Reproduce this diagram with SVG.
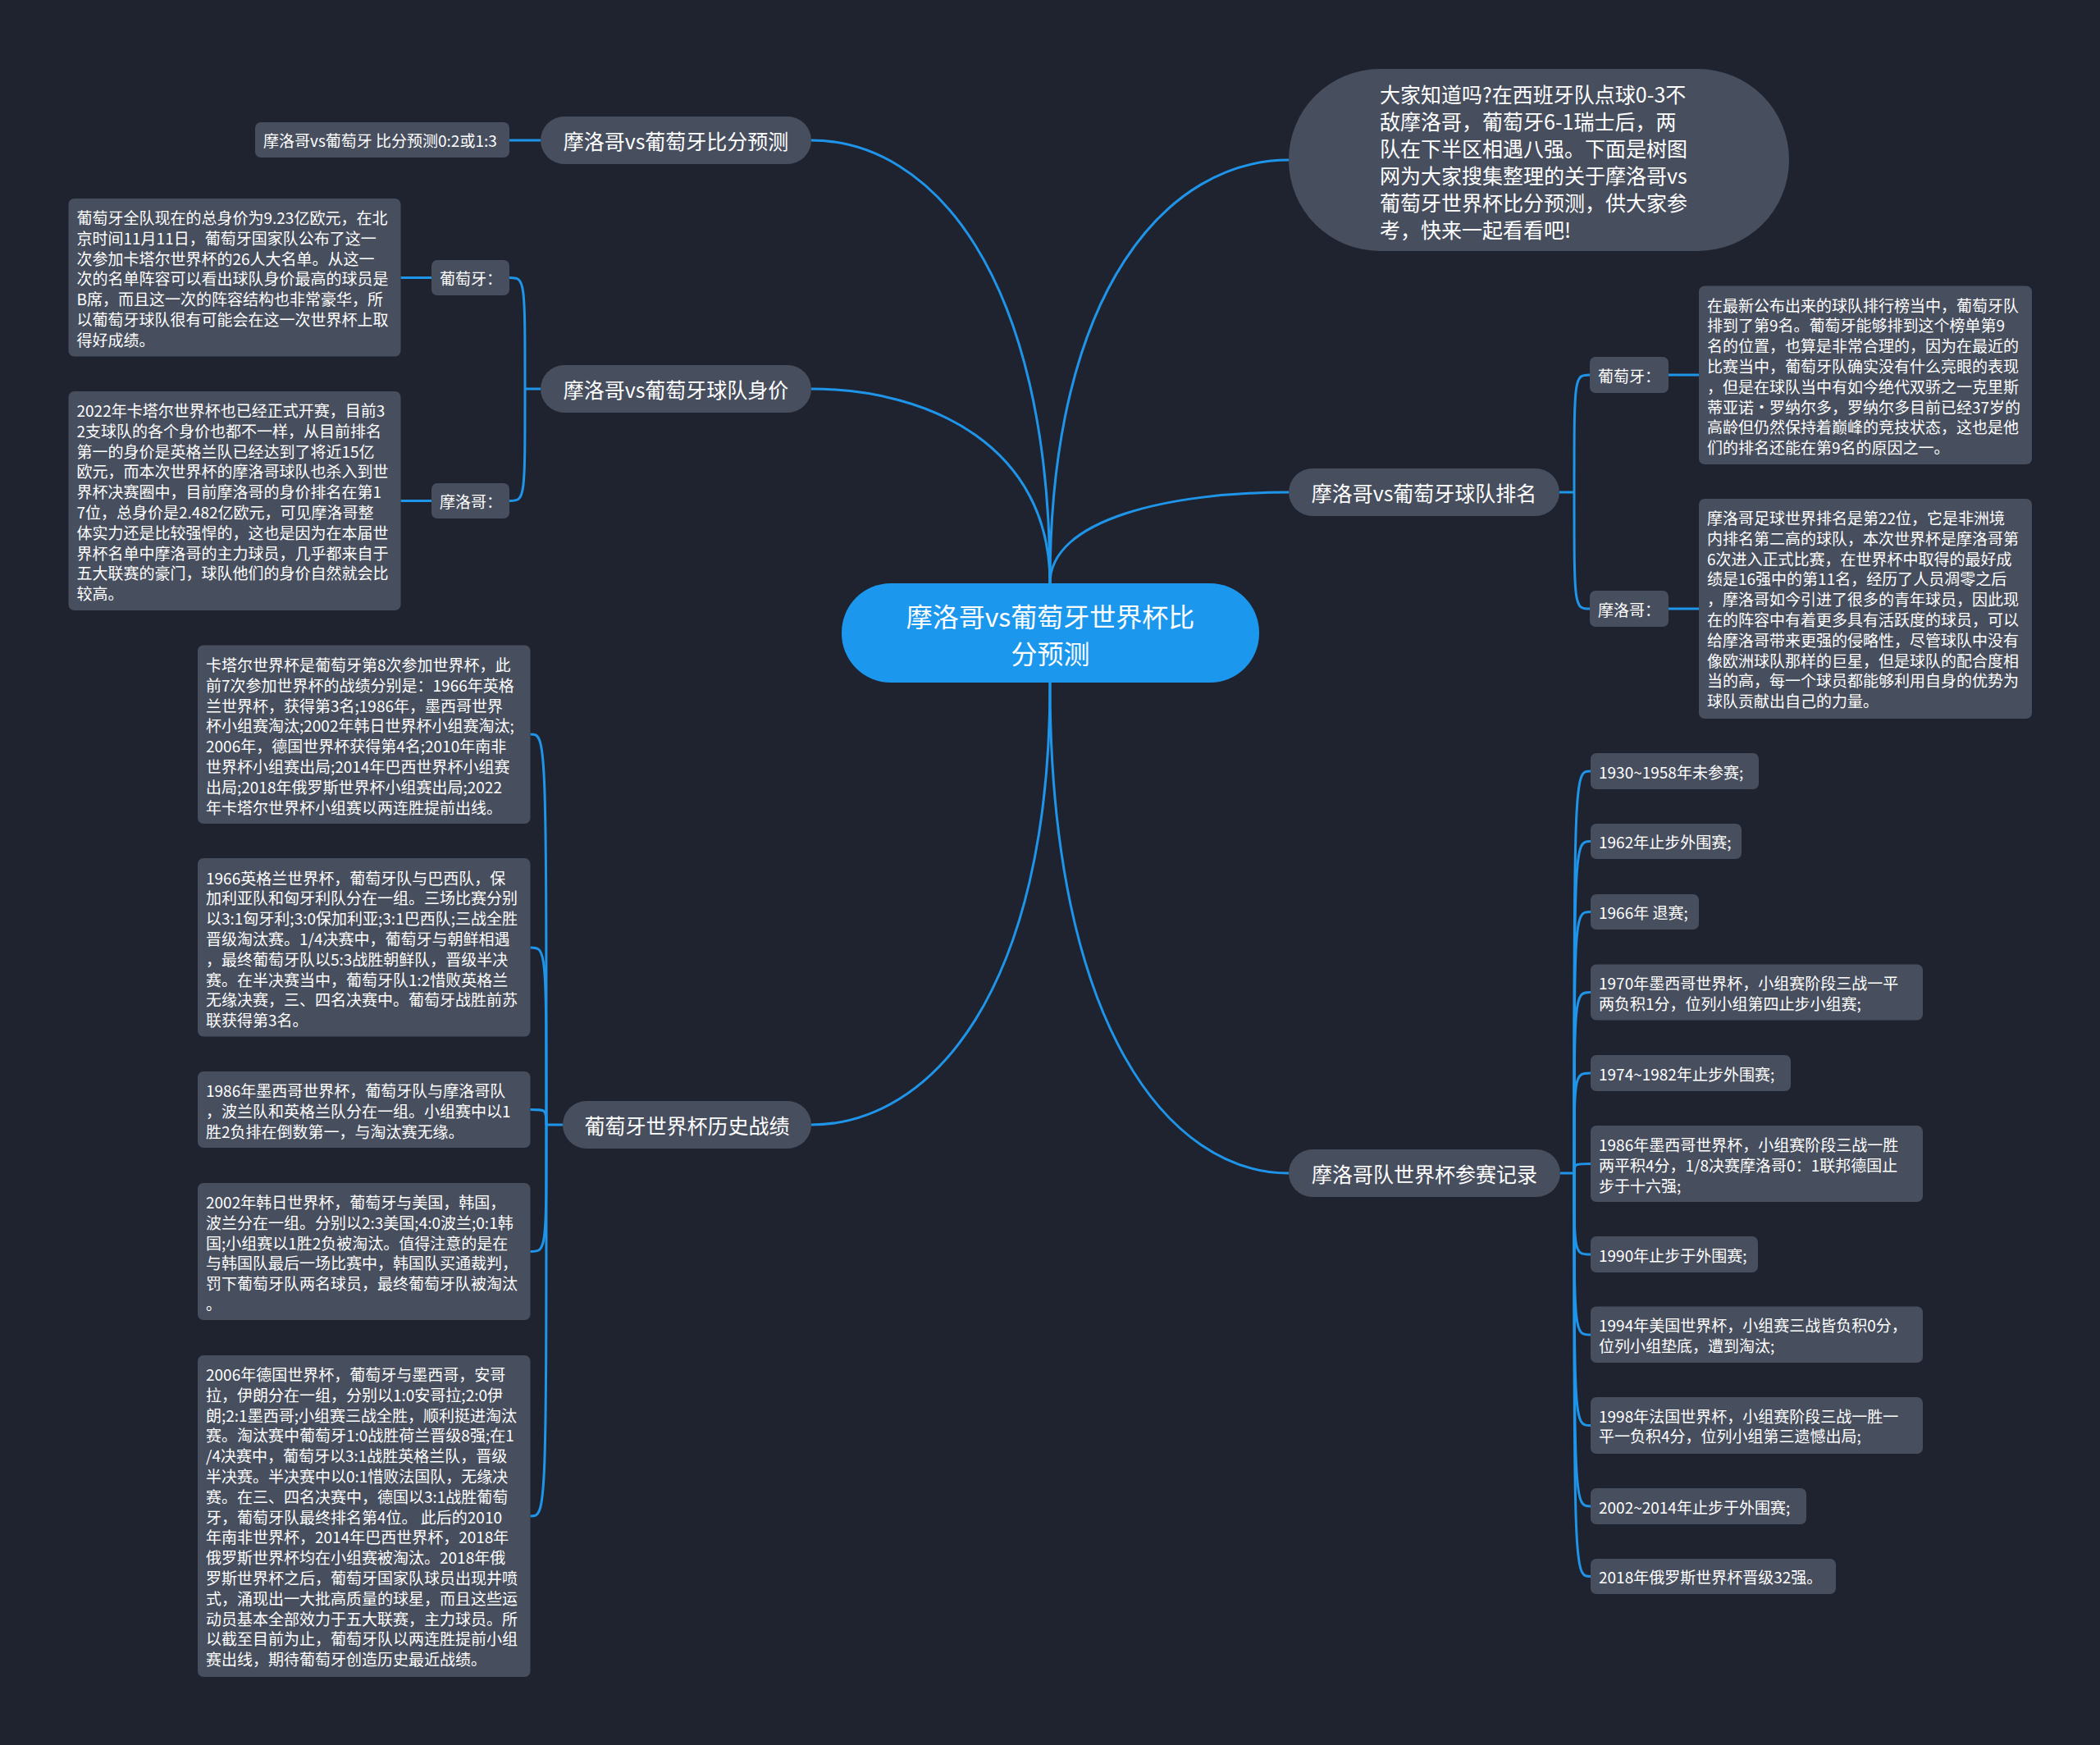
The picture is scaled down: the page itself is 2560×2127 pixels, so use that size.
<svg xmlns="http://www.w3.org/2000/svg" width="2560" height="2127" viewBox="0 0 2560 2127">
<style>
.bgc{fill:#1f2330}
.nd{fill:#474e5e}
.ctr{fill:#1b98ee}
.conn{fill:none;stroke:#1f95ea;stroke-width:3}
text{font-family:"Noto Sans CJK SC","Microsoft YaHei",sans-serif;fill:#ffffff;dominant-baseline:central}
.t-c{font-size:32px;text-anchor:middle}
.t-b{font-size:25px;text-anchor:middle}
.t-q{font-size:25px}
.t-l{font-size:19px}
</style>
<rect class="bgc" x="0" y="0" width="2560" height="2127"/>

<g id="connectors">
  <path class="conn" d="M989,171 C1134.5,171 1280,333 1280,711"/>
  <path class="conn" d="M989,474 C1134.5,474 1280,545 1280,711"/>
  <path class="conn" d="M1571,195 C1425.5,195 1280,350 1280,711"/>
  <path class="conn" d="M1571,600 C1425.5,600 1280,633 1280,711"/>
  <path class="conn" d="M989,1371 C1134.5,1371 1280,1209 1280,832"/>
  <path class="conn" d="M1571,1430 C1425.5,1430 1280,1251 1280,832"/>
  <!-- branch 1 -->
  <path class="conn" d="M659,171 L621,171"/>
  <!-- branch 2 -->
  <path class="conn" d="M659,474 L640,474"/>
  <path class="conn" d="M640,474 C640,338.5 640,338.5 621,338.5"/>
  <path class="conn" d="M640,474 C640,610.5 640,610.5 621,610.5"/>
  <path class="conn" d="M526,338.5 L488.5,338.5"/>
  <path class="conn" d="M526,610.5 L488.5,610.5"/>
  <!-- branch 3 -->
  <path class="conn" d="M686,1371 L666,1371"/>
  <path class="conn" d="M666,1371 C666,895 666,895 646.5,895"/>
  <path class="conn" d="M666,1371 C666,1155 666,1155 646.5,1155"/>
  <path class="conn" d="M666,1371 C666,1352.5 666,1352.5 646.5,1352.5"/>
  <path class="conn" d="M666,1371 C666,1525.5 666,1525.5 646.5,1525.5"/>
  <path class="conn" d="M666,1371 C666,1848 666,1848 646.5,1848"/>
  <!-- branch 5 -->
  <path class="conn" d="M1901,600 L1919,600"/>
  <path class="conn" d="M1919,600 C1919,457 1919,457 1938,457"/>
  <path class="conn" d="M1919,600 C1919,742 1919,742 1938,742"/>
  <path class="conn" d="M2034,457 L2071,457"/>
  <path class="conn" d="M2034,742 L2071,742"/>
  <!-- branch 6 -->
  <path class="conn" d="M1902,1430 L1919,1430"/>
  <path class="conn" d="M1919,1430 C1919,940 1919,940 1939,940"/>
  <path class="conn" d="M1919,1430 C1919,1025.5 1919,1025.5 1939,1025.5"/>
  <path class="conn" d="M1919,1430 C1919,1111.5 1919,1111.5 1939,1111.5"/>
  <path class="conn" d="M1919,1430 C1919,1209.5 1919,1209.5 1939,1209.5"/>
  <path class="conn" d="M1919,1430 C1919,1308 1919,1308 1939,1308"/>
  <path class="conn" d="M1919,1430 C1919,1418.5 1919,1418.5 1939,1418.5"/>
  <path class="conn" d="M1919,1430 C1919,1529 1919,1529 1939,1529"/>
  <path class="conn" d="M1919,1430 C1919,1627 1919,1627 1939,1627"/>
  <path class="conn" d="M1919,1430 C1919,1737.5 1919,1737.5 1939,1737.5"/>
  <path class="conn" d="M1919,1430 C1919,1836 1919,1836 1939,1836"/>
  <path class="conn" d="M1919,1430 C1919,1921.5 1919,1921.5 1939,1921.5"/>
</g>

<g id="center">
  <rect class="ctr" x="1026" y="711" width="509" height="121" rx="60"/>
  <text class="t-c" x="1280.5" y="750">摩洛哥vs葡萄牙世界杯比</text>
  <text class="t-c" x="1280.5" y="795">分预测</text>
</g>

<g id="b1">
  <rect class="nd" x="659" y="142" width="330" height="58" rx="29"/>
  <text class="t-b" x="824" y="171">摩洛哥vs葡萄牙比分预测</text>
</g>
<g id="b1-l1">
  <rect class="nd" x="311" y="149" width="310" height="43" rx="7"/>
  <text class="t-l" x="321" y="170.5">摩洛哥vs葡萄牙 比分预测0:2或1:3</text>
</g>

<g id="b2">
  <rect class="nd" x="659" y="445" width="330" height="58" rx="29"/>
  <text class="t-b" x="824" y="474">摩洛哥vs葡萄牙球队身价</text>
</g>
<g id="b2-s1">
  <rect class="nd" x="526" y="317" width="95" height="43" rx="7"/>
  <text class="t-l" x="536" y="338.5">葡萄牙：</text>
</g>
<g id="b2-s1-l">
  <rect class="nd" x="83.5" y="242" width="405" height="192.5" rx="7"/>
  <text class="t-l" x="93.5" y="264.5">葡萄牙全队现在的总身价为9.23亿欧元，在北</text>
  <text class="t-l" x="93.5" y="289.3">京时间11月11日，葡萄牙国家队公布了这一</text>
  <text class="t-l" x="93.5" y="314.1">次参加卡塔尔世界杯的26人大名单。从这一</text>
  <text class="t-l" x="93.5" y="338.9">次的名单阵容可以看出球队身价最高的球员是</text>
  <text class="t-l" x="93.5" y="363.7">B席，而且这一次的阵容结构也非常豪华，所</text>
  <text class="t-l" x="93.5" y="388.5">以葡萄牙球队很有可能会在这一次世界杯上取</text>
  <text class="t-l" x="93.5" y="413.3">得好成绩。</text>
</g>
<g id="b2-s2">
  <rect class="nd" x="526" y="589" width="95" height="43" rx="7"/>
  <text class="t-l" x="536" y="610.5">摩洛哥：</text>
</g>
<g id="b2-s2-l">
  <rect class="nd" x="83.5" y="477" width="405" height="267" rx="7"/>
  <text class="t-l" x="93.5" y="499.5">2022年卡塔尔世界杯也已经正式开赛，目前3</text>
  <text class="t-l" x="93.5" y="524.3">2支球队的各个身价也都不一样，从目前排名</text>
  <text class="t-l" x="93.5" y="549.1">第一的身价是英格兰队已经达到了将近15亿</text>
  <text class="t-l" x="93.5" y="573.9">欧元，而本次世界杯的摩洛哥球队也杀入到世</text>
  <text class="t-l" x="93.5" y="598.7">界杯决赛圈中，目前摩洛哥的身价排名在第1</text>
  <text class="t-l" x="93.5" y="623.5">7位，总身价是2.482亿欧元，可见摩洛哥整</text>
  <text class="t-l" x="93.5" y="648.3">体实力还是比较强悍的，这也是因为在本届世</text>
  <text class="t-l" x="93.5" y="673.1">界杯名单中摩洛哥的主力球员，几乎都来自于</text>
  <text class="t-l" x="93.5" y="697.9">五大联赛的豪门，球队他们的身价自然就会比</text>
  <text class="t-l" x="93.5" y="722.7">较高。</text>
</g>

<g id="b3">
  <rect class="nd" x="686" y="1342" width="303" height="58" rx="29"/>
  <text class="t-b" x="837.5" y="1371">葡萄牙世界杯历史战绩</text>
</g>
<g id="b3-l1">
  <rect class="nd" x="241" y="786.5" width="405.5" height="217.5" rx="7"/>
  <text class="t-l" x="251" y="809.5">卡塔尔世界杯是葡萄牙第8次参加世界杯，此</text>
  <text class="t-l" x="251" y="834.3">前7次参加世界杯的战绩分别是：1966年英格</text>
  <text class="t-l" x="251" y="859.1">兰世界杯，获得第3名;1986年，墨西哥世界</text>
  <text class="t-l" x="251" y="883.9">杯小组赛淘汰;2002年韩日世界杯小组赛淘汰;</text>
  <text class="t-l" x="251" y="908.7">2006年，德国世界杯获得第4名;2010年南非</text>
  <text class="t-l" x="251" y="933.5">世界杯小组赛出局;2014年巴西世界杯小组赛</text>
  <text class="t-l" x="251" y="958.3">出局;2018年俄罗斯世界杯小组赛出局;2022</text>
  <text class="t-l" x="251" y="983.1">年卡塔尔世界杯小组赛以两连胜提前出线。</text>
</g>
<g id="b3-l2">
  <rect class="nd" x="241" y="1046" width="405.5" height="217.5" rx="7"/>
  <text class="t-l" x="251" y="1069">1966英格兰世界杯，葡萄牙队与巴西队，保</text>
  <text class="t-l" x="251" y="1093.8">加利亚队和匈牙利队分在一组。三场比赛分别</text>
  <text class="t-l" x="251" y="1118.6">以3:1匈牙利;3:0保加利亚;3:1巴西队;三战全胜</text>
  <text class="t-l" x="251" y="1143.4">晋级淘汰赛。1/4决赛中，葡萄牙与朝鲜相遇</text>
  <text class="t-l" x="251" y="1168.2">，最终葡萄牙队以5:3战胜朝鲜队，晋级半决</text>
  <text class="t-l" x="251" y="1193">赛。在半决赛当中，葡萄牙队1:2惜败英格兰</text>
  <text class="t-l" x="251" y="1217.8">无缘决赛，三、四名决赛中。葡萄牙战胜前苏</text>
  <text class="t-l" x="251" y="1242.6">联获得第3名。</text>
</g>
<g id="b3-l3">
  <rect class="nd" x="241" y="1306" width="405.5" height="93" rx="7"/>
  <text class="t-l" x="251" y="1328.5">1986年墨西哥世界杯，葡萄牙队与摩洛哥队</text>
  <text class="t-l" x="251" y="1353.3">，波兰队和英格兰队分在一组。小组赛中以1</text>
  <text class="t-l" x="251" y="1378.1">胜2负排在倒数第一，与淘汰赛无缘。</text>
</g>
<g id="b3-l4">
  <rect class="nd" x="241" y="1442" width="405.5" height="167" rx="7"/>
  <text class="t-l" x="251" y="1464.5">2002年韩日世界杯，葡萄牙与美国，韩国，</text>
  <text class="t-l" x="251" y="1489.3">波兰分在一组。分别以2:3美国;4:0波兰;0:1韩</text>
  <text class="t-l" x="251" y="1514.1">国;小组赛以1胜2负被淘汰。值得注意的是在</text>
  <text class="t-l" x="251" y="1538.9">与韩国队最后一场比赛中，韩国队买通裁判，</text>
  <text class="t-l" x="251" y="1563.7">罚下葡萄牙队两名球员，最终葡萄牙队被淘汰</text>
  <text class="t-l" x="251" y="1588.5">。</text>
</g>
<g id="b3-l5">
  <rect class="nd" x="241" y="1652" width="405.5" height="392" rx="7"/>
  <text class="t-l" x="251" y="1674.5">2006年德国世界杯，葡萄牙与墨西哥，安哥</text>
  <text class="t-l" x="251" y="1699.3">拉，伊朗分在一组，分别以1:0安哥拉;2:0伊</text>
  <text class="t-l" x="251" y="1724.1">朗;2:1墨西哥;小组赛三战全胜，顺利挺进淘汰</text>
  <text class="t-l" x="251" y="1748.9">赛。淘汰赛中葡萄牙1:0战胜荷兰晋级8强;在1</text>
  <text class="t-l" x="251" y="1773.7">/4决赛中，葡萄牙以3:1战胜英格兰队，晋级</text>
  <text class="t-l" x="251" y="1798.5">半决赛。半决赛中以0:1惜败法国队，无缘决</text>
  <text class="t-l" x="251" y="1823.3">赛。在三、四名决赛中，德国以3:1战胜葡萄</text>
  <text class="t-l" x="251" y="1848.1">牙，葡萄牙队最终排名第4位。 此后的2010</text>
  <text class="t-l" x="251" y="1872.9">年南非世界杯，2014年巴西世界杯，2018年</text>
  <text class="t-l" x="251" y="1897.7">俄罗斯世界杯均在小组赛被淘汰。2018年俄</text>
  <text class="t-l" x="251" y="1922.5">罗斯世界杯之后，葡萄牙国家队球员出现井喷</text>
  <text class="t-l" x="251" y="1947.3">式，涌现出一大批高质量的球星，而且这些运</text>
  <text class="t-l" x="251" y="1972.1">动员基本全部效力于五大联赛，主力球员。所</text>
  <text class="t-l" x="251" y="1996.9">以截至目前为止，葡萄牙队以两连胜提前小组</text>
  <text class="t-l" x="251" y="2021.7">赛出线，期待葡萄牙创造历史最近战绩。</text>
</g>

<g id="b4">
  <rect class="nd" x="1571" y="84" width="610" height="222" rx="111"/>
  <text class="t-q" x="1682" y="114">大家知道吗?在西班牙队点球0-3不</text>
  <text class="t-q" x="1682" y="147">敌摩洛哥，葡萄牙6-1瑞士后，两</text>
  <text class="t-q" x="1682" y="180">队在下半区相遇八强。下面是树图</text>
  <text class="t-q" x="1682" y="213">网为大家搜集整理的关于摩洛哥vs</text>
  <text class="t-q" x="1682" y="246">葡萄牙世界杯比分预测，供大家参</text>
  <text class="t-q" x="1682" y="279">考，快来一起看看吧!</text>
</g>

<g id="b5">
  <rect class="nd" x="1571" y="571" width="330" height="58" rx="29"/>
  <text class="t-b" x="1736" y="600">摩洛哥vs葡萄牙球队排名</text>
</g>
<g id="b5-s1">
  <rect class="nd" x="1938" y="435" width="96" height="44" rx="7"/>
  <text class="t-l" x="1948" y="457">葡萄牙：</text>
</g>
<g id="b5-s1-l">
  <rect class="nd" x="2071" y="348.5" width="406" height="217.5" rx="7"/>
  <text class="t-l" x="2081" y="371">在最新公布出来的球队排行榜当中，葡萄牙队</text>
  <text class="t-l" x="2081" y="395.8">排到了第9名。葡萄牙能够排到这个榜单第9</text>
  <text class="t-l" x="2081" y="420.6">名的位置，也算是非常合理的，因为在最近的</text>
  <text class="t-l" x="2081" y="445.4">比赛当中，葡萄牙队确实没有什么亮眼的表现</text>
  <text class="t-l" x="2081" y="470.2">，但是在球队当中有如今绝代双骄之一克里斯</text>
  <text class="t-l" x="2081" y="495">蒂亚诺·罗纳尔多，罗纳尔多目前已经37岁的</text>
  <text class="t-l" x="2081" y="519.8">高龄但仍然保持着巅峰的竞技状态，这也是他</text>
  <text class="t-l" x="2081" y="544.6">们的排名还能在第9名的原因之一。</text>
</g>
<g id="b5-s2">
  <rect class="nd" x="1938" y="720" width="96" height="44" rx="7"/>
  <text class="t-l" x="1948" y="742">摩洛哥：</text>
</g>
<g id="b5-s2-l">
  <rect class="nd" x="2071" y="608" width="406" height="268" rx="7"/>
  <text class="t-l" x="2081" y="630.5">摩洛哥足球世界排名是第22位，它是非洲境</text>
  <text class="t-l" x="2081" y="655.3">内排名第二高的球队，本次世界杯是摩洛哥第</text>
  <text class="t-l" x="2081" y="680.1">6次进入正式比赛，在世界杯中取得的最好成</text>
  <text class="t-l" x="2081" y="704.9">绩是16强中的第11名，经历了人员凋零之后</text>
  <text class="t-l" x="2081" y="729.7">，摩洛哥如今引进了很多的青年球员，因此现</text>
  <text class="t-l" x="2081" y="754.5">在的阵容中有着更多具有活跃度的球员，可以</text>
  <text class="t-l" x="2081" y="779.3">给摩洛哥带来更强的侵略性，尽管球队中没有</text>
  <text class="t-l" x="2081" y="804.1">像欧洲球队那样的巨星，但是球队的配合度相</text>
  <text class="t-l" x="2081" y="828.9">当的高，每一个球员都能够利用自身的优势为</text>
  <text class="t-l" x="2081" y="853.7">球队贡献出自己的力量。</text>
</g>

<g id="b6">
  <rect class="nd" x="1571" y="1401" width="331" height="58" rx="29"/>
  <text class="t-b" x="1736.5" y="1430">摩洛哥队世界杯参赛记录</text>
</g>
<g id="b6-r1">
  <rect class="nd" x="1939" y="918" width="205" height="44" rx="7"/>
  <text class="t-l" x="1949" y="940">1930~1958年未参赛;</text>
</g>
<g id="b6-r2">
  <rect class="nd" x="1939" y="1004" width="184" height="43" rx="7"/>
  <text class="t-l" x="1949" y="1025.5">1962年止步外围赛;</text>
</g>
<g id="b6-r3">
  <rect class="nd" x="1939" y="1090" width="132" height="43" rx="7"/>
  <text class="t-l" x="1949" y="1111.5">1966年 退赛;</text>
</g>
<g id="b6-r4">
  <rect class="nd" x="1939" y="1175.5" width="405" height="68" rx="7"/>
  <text class="t-l" x="1949" y="1197.5">1970年墨西哥世界杯，小组赛阶段三战一平</text>
  <text class="t-l" x="1949" y="1222.3">两负积1分，位列小组第四止步小组赛;</text>
</g>
<g id="b6-r5">
  <rect class="nd" x="1939" y="1286" width="244" height="44" rx="7"/>
  <text class="t-l" x="1949" y="1308">1974~1982年止步外围赛;</text>
</g>
<g id="b6-r6">
  <rect class="nd" x="1939" y="1372" width="405" height="93" rx="7"/>
  <text class="t-l" x="1949" y="1394.5">1986年墨西哥世界杯，小组赛阶段三战一胜</text>
  <text class="t-l" x="1949" y="1419.3">两平积4分，1/8决赛摩洛哥0：1联邦德国止</text>
  <text class="t-l" x="1949" y="1444.1">步于十六强;</text>
</g>
<g id="b6-r7">
  <rect class="nd" x="1939" y="1507" width="204" height="44" rx="7"/>
  <text class="t-l" x="1949" y="1529">1990年止步于外围赛;</text>
</g>
<g id="b6-r8">
  <rect class="nd" x="1939" y="1592.5" width="405" height="68.5" rx="7"/>
  <text class="t-l" x="1949" y="1614.5">1994年美国世界杯，小组赛三战皆负积0分，</text>
  <text class="t-l" x="1949" y="1639.3">位列小组垫底，遭到淘汰;</text>
</g>
<g id="b6-r9">
  <rect class="nd" x="1939" y="1703" width="405" height="69" rx="7"/>
  <text class="t-l" x="1949" y="1725">1998年法国世界杯，小组赛阶段三战一胜一</text>
  <text class="t-l" x="1949" y="1749.8">平一负积4分，位列小组第三遗憾出局;</text>
</g>
<g id="b6-r10">
  <rect class="nd" x="1939" y="1814" width="263" height="44" rx="7"/>
  <text class="t-l" x="1949" y="1836">2002~2014年止步于外围赛;</text>
</g>
<g id="b6-r11">
  <rect class="nd" x="1939" y="1900" width="299" height="43" rx="7"/>
  <text class="t-l" x="1949" y="1921.5">2018年俄罗斯世界杯晋级32强。</text>
</g>
</svg>
